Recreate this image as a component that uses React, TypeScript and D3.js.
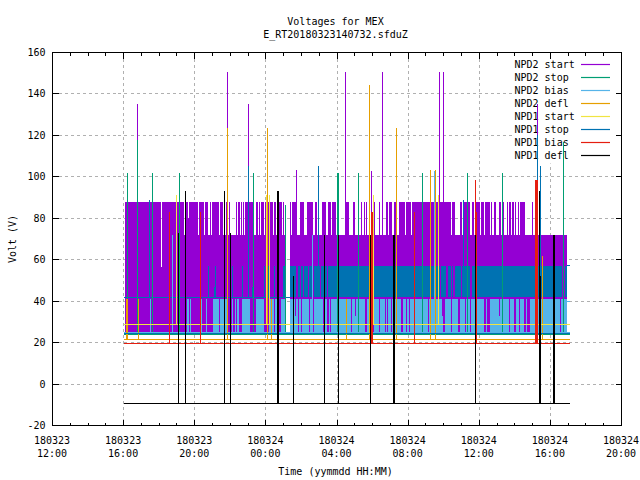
import React, { useRef, useEffect } from 'react';
import * as d3 from 'd3';

// times are hours after 180323 12:00, values are volts
const titleLines = ['Voltages for MEX', 'E_RT20180323140732.sfduZ'];
const legendNames = ['NPD2 start', 'NPD2 stop', 'NPD2 bias', 'NPD2 defl', 'NPD1 start', 'NPD1 stop', 'NPD1 bias', 'NPD1 defl'];
const colors = ['#9400d3', '#009e73', '#56b4e9', '#e69f00', '#f0e442', '#0072b2', '#e51e10', '#000000'];

const startHour = 4.09;
const endHour = 28.95;
const lineStart = 4.0;
const lineEnd = 29.12;

// NPD2 start sits between 72 and 88 V
const purpleBase: [number, number][] = [[startHour, 13.13], [13.37, endHour]];
const purpleHigh: [number, number][] = [
  [4.09, 6.12], [6.17, 7.41], [7.48, 7.63], [7.69, 8.18], [8.25, 8.52], [8.59, 8.72], [8.83, 8.91], [8.97, 9.0],
  [9.04, 9.34], [9.42, 9.6], [9.77, 9.84], [9.92, 10.0], [10.33, 10.39], [10.45, 10.52], [10.6, 10.67], [10.73, 10.78],
  [10.84, 11.03], [11.07, 11.31], [11.46, 11.53], [11.59, 11.67], [11.74, 11.87], [11.95, 12.15], [12.25, 12.42],
  [12.47, 12.58], [12.75, 12.9], [12.98, 13.03], [13.37, 13.43], [13.48, 13.75], [13.93, 14.16], [14.33, 14.65],
  [14.78, 14.89], [15.17, 15.4], [15.49, 15.66], [15.73, 15.96], [16.47, 16.69], [16.92, 17.03], [17.37, 17.42],
  [17.53, 17.59], [17.65, 17.7], [17.93, 17.98], [18.08, 18.15], [18.38, 18.43], [18.55, 18.6], [18.77, 18.88],
  [18.94, 19.11], [19.22, 19.33], [19.5, 19.84], [19.9, 20.18], [20.23, 22.43], [22.48, 22.65], [22.93, 23.05],
  [23.1, 23.5], [23.61, 23.72], [23.78, 24.06], [24.12, 24.28], [24.34, 24.62], [24.68, 24.73], [24.85, 24.96],
  [25.13, 25.24], [25.3, 25.41], [25.58, 25.63], [25.69, 25.8], [25.86, 25.97], [26.03, 26.08], [26.2, 26.25],
  [26.31, 26.59], [26.98, 27.04],
];
const purpleMid: [number, number][] = [[7.63, 7.69]];
const purpleDrop: [number, number][] = [[6.12, 6.17]];

// NPD2 bias between 25 and 41 V
const biasBand: [number, number][] = [
  [5.5, 5.55], [7.56, 7.69], [7.73, 7.8], [8.33, 8.39], [8.65, 8.71], [9.0, 9.04], [9.1, 9.38], [9.43, 9.83],
  [10.11, 10.17], [10.26, 10.33], [10.39, 10.48], [10.67, 11.12], [11.46, 11.53], [11.57, 11.87], [12.15, 13.13], [13.37, endHour],
];
const biasNotches: [number, number][] = [
  [12.47, 12.53], [12.75, 12.83], [13.78, 13.85], [13.97, 14.03], [14.42, 14.47], [14.63, 14.72], [15.2, 15.26],
  [15.42, 15.53], [15.58, 15.66], [16.8, 16.86], [17.6, 17.7], [17.83, 18.06], [18.38, 18.43], [18.68, 18.76],
  [18.83, 18.87], [19.05, 19.11], [19.33, 19.39], [19.62, 19.73], [19.9, 19.96], [20.03, 20.1], [21.1, 21.16],
  [21.94, 22.05], [22.43, 22.48], [22.8, 22.93], [23.18, 23.26], [23.31, 23.37], [23.5, 23.54], [24.25, 24.36],
  [24.45, 24.62], [25.69, 25.75], [25.97, 26.08], [26.25, 26.31], [26.52, 26.65], [26.69, 26.87], [28.56, 28.62],
];
const biasShortNotches: [number, number][] = [[13.62, 13.7], [17.03, 17.09], [21.9, 22.09], [25.13, 25.19]];

// NPD1 stop between 41.8 and 57.2 V
const stopBand: [number, number][] = [
  [8.73, 8.79], [9.13, 9.19], [10.11, 10.17], [10.63, 10.73], [11.01, 11.07], [11.91, 11.97], [12.08, 12.19],
  [12.47, 12.53], [12.98, 13.05], [13.37, endHour],
];
const stopShort: [number, number][] = [[9.1, 9.21], [11.23, 11.35]];
const stopNotches: [number, number][] = [
  [13.71, 13.78], [13.9, 13.97], [14.09, 14.16], [14.37, 14.44], [14.63, 14.72], [15.06, 15.12], [15.44, 15.51],
  [21.81, 21.87], [22.15, 22.22], [22.43, 22.48], [22.52, 22.65], [22.99, 23.05], [23.5, 23.59], [28.67, 28.84],
];

const npd2StartSpikes: [number, number][] = [
  [4.78, 135], [9.85, 150.6], [11.03, 135], [13.73, 103.3], [16.48, 150.6], [17.94, 103], [18.55, 150.6],
  [21.77, 150.6], [22.0, 150.6], [27.25, 135],
];
const npd2StopSpikes: [number, number][] = [
  [4.2, 102], [4.78, 118], [5.63, 102], [7.13, 102], [11.31, 102], [13.09, 86.4], [16.03, 102], [16.11, 102],
  [17.21, 102], [20.81, 102], [23.34, 102], [25.31, 102], [28.75, 117],
];
const npd2BiasSpikes: [number, number][] = [[6.75, 72], [14.63, 72], [21.49, 102.8]];
const npd2DeflSpikes: [number, number][] = [
  [4.16, 41], [4.2, 41], [4.84, 41], [9.85, 123.5], [12.1, 123.5], [12.29, 41], [16.56, 41], [17.83, 144.3],
  [19.35, 123.5], [21.26, 103.3], [21.54, 103.3], [27.56, 62],
];
const npd1StartSpikes: [number, number][] = [[6.98, 91], [12.06, 91], [12.21, 91], [18.06, 91], [21.71, 91]];
const npd1StopSpikes: [number, number][] = [
  [5.48, 88.8], [11.03, 105], [14.96, 105], [23.12, 89], [27.25, 120], [27.43, 105],
];
const npd1BiasSpikes: [number, number][] = [
  [6.56, 83], [8.33, 83], [17.96, 83], [18.01, 83], [20.36, 83], [23.79, 98.4], [23.87, 83], [27.18, 98.4],
  [27.24, 98.4], [27.29, 98.4],
];
const npd1DeflSpikes: [number, number][] = [
  [7.09, 72.7], [7.48, 93], [9.68, 93], [10.01, 73], [12.64, 93], [12.7, 93], [13.57, 52], [15.3, 72], [16.09, 72],
  [17.89, 72], [19.19, 72], [19.25, 72], [23.79, 72], [27.41, 93], [27.46, 52], [28.15, 72], [28.21, 31], [28.26, 72],
];

// level of each series when it is not spiking
const levels = [24.5, 24, 25, 21.5, 28.8, 24.6, 19.6, -9.4];
const spikeBases = [72, 24, 25, 21.5, 28.8, 41.8, 19.6, -9.4];
const allSpikes = [
  npd2StartSpikes, npd2StopSpikes, npd2BiasSpikes, npd2DeflSpikes,
  npd1StartSpikes, npd1StopSpikes, npd1BiasSpikes, npd1DeflSpikes,
];

const yTicks = d3.range(-20, 161, 20);
const font = '"DejaVu Sans Mono", monospace';

const App: React.FC = () => {
  const ref = useRef<SVGSVGElement | null>(null);

  useEffect(() => {
    if (!ref.current) return;
    const svg = d3.select(ref.current);
    svg.selectAll('*').remove();

    const width = 640;
    const height = 480;
    const marginTop = 52.5;
    const marginRight = 18.5;
    const marginBottom = 54.5;
    const marginLeft = 52.5;
    const right = width - marginRight;
    const bottom = height - marginBottom;

    const t0 = Date.UTC(2018, 2, 23, 12);
    const toDate = (h: number) => new Date(t0 + h * 3600e3);

    const x = d3.scaleUtc()
      .domain([toDate(0), toDate(32)])
      .range([marginLeft, right]);
    const y = d3.scaleLinear()
      .domain([-20, 160])
      .range([bottom, marginTop]);

    const xH = (h: number) => x(toDate(h));
    const xMajor = d3.utcHour.every(4)!.range(toDate(0), toDate(32.01));
    const xMinor = d3.utcHour.range(toDate(0), toDate(32.01));

    svg.attr('viewBox', [0, 0, width, height].join(' '))
      .attr('width', width)
      .attr('height', height)
      .style('position', 'fixed')
      .style('left', 0)
      .style('top', 0)
      .style('background', '#fff')
      .style('font-family', font)
      .style('font-size', '10px');

    // grid
    const grid = svg.append('g')
      .attr('stroke', '#b0b0b0')
      .attr('stroke-dasharray', '3,3')
      .attr('shape-rendering', 'crispEdges');
    grid.selectAll('.gy').data(yTicks.slice(1, -1)).join('line')
      .attr('x1', marginLeft).attr('x2', right)
      .attr('y1', d => y(d)).attr('y2', d => y(d));
    grid.selectAll('.gx').data(xMajor.slice(1, -1)).join('line')
      .attr('x1', d => x(d)).attr('x2', d => x(d))
      .attr('y1', marginTop).attr('y2', bottom);

    // the key box hides the grid behind it
    svg.append('rect')
      .attr('x', 513).attr('y', marginTop + 1)
      .attr('width', 103).attr('height', 110)
      .attr('fill', '#fff');

    const legend = svg.append('g');
    legendNames.forEach((name, i) => {
      const ly = 64 + i * 13;
      legend.append('text').attr('x', 514.5).attr('y', ly + 3.5).attr('fill', '#000').text(name);
      legend.append('line')
        .attr('x1', 581).attr('x2', 610)
        .attr('y1', ly + 0.5).attr('y2', ly + 0.5)
        .attr('stroke', colors[i])
        .attr('stroke-width', 1.2);
    });

    const band = (rows: [number, number][], top: number, low: number, color: string) => {
      svg.append('g')
        .attr('fill', color)
        .attr('shape-rendering', 'crispEdges')
        .selectAll('rect').data(rows).join('rect')
        .attr('x', d => xH(d[0]))
        .attr('width', d => Math.max(1, xH(d[1]) - xH(d[0])))
        .attr('y', y(top))
        .attr('height', y(low) - y(top));
    };

    band(purpleBase, 72, 24.5, colors[0]);
    band(purpleHigh, 88, 72, colors[0]);
    band(purpleMid, 80, 72, colors[0]);
    band(purpleDrop, 72, 56.5, '#fff');
    band(biasBand, 41, 25, colors[2]);
    band(stopBand, 57.2, 41.8, colors[5]);
    band(stopShort, 47, 41.8, colors[5]);
    band(biasNotches, 41, 25, colors[0]);
    band(biasShortNotches, 41, 33, colors[0]);
    band(stopNotches, 57.2, 41.8, colors[0]);

    const hline = (h0: number, h1: number, v: number, color: string) => {
      svg.append('line')
        .attr('x1', xH(h0)).attr('x2', xH(h1))
        .attr('y1', y(v)).attr('y2', y(v))
        .attr('stroke', color)
        .attr('shape-rendering', 'crispEdges');
    };

    hline(lineStart, 13.37, 41.8, colors[5]);
    hline(13.37, endHour, 41.8, colors[0]);
    hline(endHour, lineEnd, 57.2, colors[5]);
    hline(endHour, lineEnd, 40, colors[2]);

    allSpikes.forEach((spikes, i) => {
      const g = svg.append('g')
        .attr('stroke', colors[i])
        .attr('shape-rendering', 'crispEdges');
      g.selectAll('line').data(spikes).join('line')
        .attr('x1', d => xH(d[0])).attr('x2', d => xH(d[0]))
        .attr('y1', y(spikeBases[i])).attr('y2', d => y(d[1]));
      hline(i === 0 ? startHour : lineStart, i === 0 ? endHour : lineEnd, levels[i], colors[i]);
    });

    // frame and ticks
    const ticks = svg.append('g')
      .attr('stroke', '#000')
      .attr('shape-rendering', 'crispEdges');
    ticks.append('rect')
      .attr('x', marginLeft).attr('y', marginTop)
      .attr('width', right - marginLeft).attr('height', bottom - marginTop)
      .attr('fill', 'none');

    const isMajor = (d: Date) => d.getUTCHours() % 4 === 0;
    [[bottom, -1], [marginTop, 1]].forEach(([edge, dir]) => {
      svg.append('g')
        .attr('stroke', '#000')
        .attr('shape-rendering', 'crispEdges')
        .selectAll('line').data(xMinor).join('line')
        .attr('x1', d => x(d)).attr('x2', d => x(d))
        .attr('y1', edge)
        .attr('y2', d => edge + dir * (isMajor(d) ? 6 : 3));
    });
    [[marginLeft, 1], [right, -1]].forEach(([edge, dir]) => {
      svg.append('g')
        .attr('stroke', '#000')
        .attr('shape-rendering', 'crispEdges')
        .selectAll('line').data(yTicks).join('line')
        .attr('x1', edge).attr('x2', edge + dir * 6)
        .attr('y1', d => y(d)).attr('y2', d => y(d));
    });

    // labels
    svg.append('g')
      .attr('text-anchor', 'end')
      .selectAll('text').data(yTicks).join('text')
      .attr('x', 45.5)
      .attr('y', d => y(d) + 3.5)
      .text(d => d3.format('d')(d).replace('\u2212', '-'));

    const fmtDay = d3.utcFormat('%y%m%d');
    const fmtTime = d3.utcFormat('%H:%M');
    const xLabels = svg.append('g').attr('text-anchor', 'middle');
    xLabels.selectAll('.day').data(xMajor).join('text')
      .attr('x', d => x(d) - 0.5).attr('y', 443.5).text(d => fmtDay(d));
    xLabels.selectAll('.time').data(xMajor).join('text')
      .attr('x', d => x(d) - 0.5).attr('y', 456.5).text(d => fmtTime(d));

    svg.append('g')
      .attr('text-anchor', 'middle')
      .selectAll('text').data(titleLines).join('text')
      .attr('x', 335.5)
      .attr('y', (_, i) => 25 + i * 13)
      .text(d => d);

    svg.append('text')
      .attr('x', 335.5).attr('y', 475)
      .attr('text-anchor', 'middle')
      .text('Time (yymmdd HH:MM)');

    svg.append('text')
      .attr('transform', 'translate(15.5,239) rotate(-90)')
      .attr('text-anchor', 'middle')
      .text('Volt (V)');
  }, []);

  return <svg ref={ref} />;
};

export default App;
